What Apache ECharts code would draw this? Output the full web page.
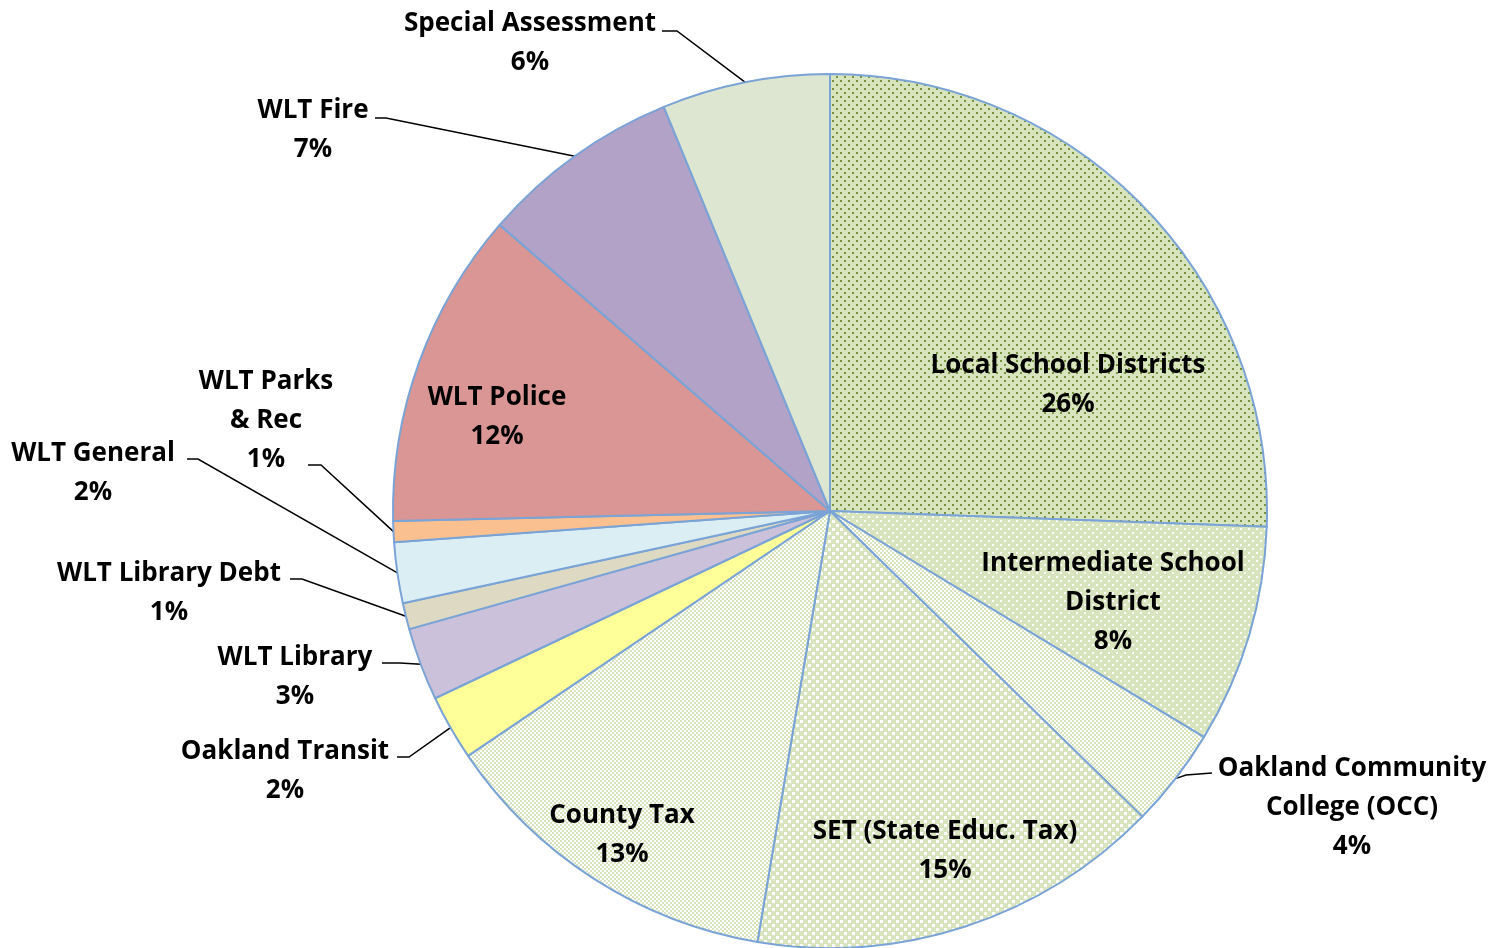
<!DOCTYPE html>
<html>
<head>
<meta charset="utf-8">
<style>
  html, body { margin: 0; padding: 0; background: #ffffff; }
  #chart { width: 1507px; height: 948px; }
</style>
<script src="https://cdn.jsdelivr.net/npm/echarts@6/dist/echarts.min.js"></script>
</head>
<body>
<div id="chart"></div>
<script>
// ---- Data ----
const categories = [
  'Local School Districts',
  'Intermediate School District',
  'Oakland Community College (OCC)',
  'SET (State Educ. Tax)',
  'County Tax',
  'Oakland Transit',
  'WLT Library',
  'WLT Library Debt',
  'WLT General',
  'WLT Parks & Rec',
  'WLT Police',
  'WLT Fire',
  'Special Assessment'
];
const shares = [25.58, 8.08, 3.67, 15.33, 12.88, 2.42, 2.69, 0.97, 2.25, 0.77, 11.73, 7.43, 6.21];
const labelNames = [
  'Local School Districts',
  'Intermediate School\nDistrict',
  'Oakland Community\nCollege (OCC)',
  'SET (State Educ. Tax)',
  'County Tax',
  'Oakland Transit',
  'WLT Library',
  'WLT Library Debt',
  'WLT General',
  'WLT Parks\n& Rec',
  'WLT Police',
  'WLT Fire',
  'Special Assessment'
];

// ---- Styles ----
function tile(size, base, dot, dotSize, pts) {
  const c = document.createElement('canvas');
  c.width = size; c.height = size;
  const g = c.getContext('2d');
  g.fillStyle = base; g.fillRect(0, 0, size, size);
  g.fillStyle = dot;
  pts.forEach(p => g.fillRect(p[0], p[1], dotSize, dotSize));
  return { image: c, repeat: 'repeat' };
}
const green = '#d7e4bd';
const fills = [
  tile(8, green, '#77933c', 2, [[0, 0], [4, 4]]),
  tile(8, green, '#ffffff', 2, [[0, 0], [4, 4]]),
  tile(4, '#ffffff', green, 2, [[0, 0], [2, 2]]),
  tile(8, green, '#ffffff', 3, [[0, 0], [4, 4]]),
  tile(4, '#ffffff', green, 2, [[0, 0], [2, 2]]),
  '#ffff99',
  '#ccc1da',
  '#ddd9c3',
  '#dbeef4',
  '#fac090',
  '#d99694',
  '#b3a2c7',
  '#dce6d0'
];

// label placement (centre x, first-line centre y) and leader line anchors
const lineH = 39;
const labelShiftY = 3;
const labelSpots = [
  { x: 1068, y: 363, inside: true },
  { x: 1113, y: 561, inside: true },
  { x: 1352, y: 766, lead: [[1212, 773], [1186, 775]] },
  { x: 945, y: 829, inside: true },
  { x: 622, y: 813, inside: true },
  { x: 285, y: 749, lead: [[397, 757], [409, 757]] },
  { x: 295, y: 655, lead: [[382, 663], [400, 663]] },
  { x: 169, y: 571, lead: [[290, 579], [302, 579]] },
  { x: 93, y: 451, lead: [[187, 459], [198, 459]] },
  { x: 266, y: 379, lead: [[308, 465], [321, 465]] },
  { x: 497, y: 395, inside: true },
  { x: 313, y: 108, lead: [[375, 118], [386, 118]] },
  { x: 530, y: 21, lead: [[662, 31], [677, 31]] }
];

const seriesData = categories.map((name, i) => ({
  name: name,
  value: shares[i],
  itemStyle: { color: fills[i] },
  labelLine: { show: !labelSpots[i].inside }
}));

const chart = echarts.init(document.getElementById('chart'), null, { renderer: 'canvas' });
chart.setOption({
  animation: false,
  backgroundColor: '#ffffff',
  series: [{
    type: 'pie',
    center: [830, 511],
    radius: 437,
    startAngle: 90,
    clockwise: true,
    avoidLabelOverlap: false,
    emphasis: { disabled: true },
    itemStyle: { borderColor: '#7aa3d6', borderWidth: 2 },
    label: {
      show: true,
      position: 'outside',
      color: '#000000',
      fontFamily: 'Open Sans',
      fontWeight: 'bold',
      fontSize: 26,
      lineHeight: lineH,
      width: 420,
      overflow: 'none',
      align: 'center',
      formatter: p => labelNames[p.dataIndex] + '\n' + Math.round(p.percent) + '%'
    },
    labelLine: {
      show: true,
      lineStyle: { color: '#000000', width: 1.5 }
    },
    labelLayout: function (params) {
      const i = params.dataIndex;
      const s = labelSpots[i];
      const nLines = labelNames[i].split('\n').length + 1;
      const out = {
        x: s.x,
        y: s.y + labelShiftY + (nLines - 1) * lineH / 2,
        align: 'center',
        verticalAlign: 'middle'
      };
      if (s.lead && params.labelLinePoints && params.labelLinePoints.length) {
        out.labelLinePoints = [s.lead[0], s.lead[1], params.labelLinePoints[0]];
      }
      return out;
    },
    data: seriesData
  }]
});
</script>
</body>
</html>
